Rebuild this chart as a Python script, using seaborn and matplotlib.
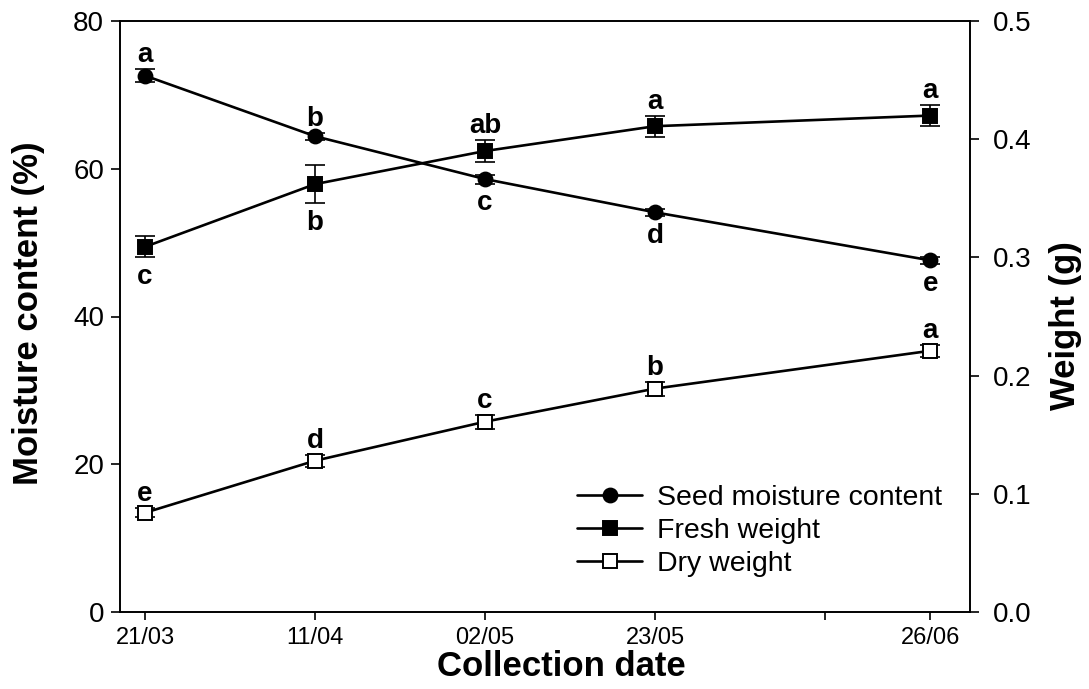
import numpy as np
import pandas as pd
import matplotlib
matplotlib.use("Agg")
import matplotlib.pyplot as plt
from matplotlib.lines import Line2D
import seaborn as sns

# Collection dates (day/month) and measured values
dates = ["21/03", "11/04", "02/05", "23/05", "26/06"]

moisture = [72.6, 64.4, 58.6, 54.1, 47.6]          # seed moisture content (%)
moisture_err = [0.9, 0.5, 0.6, 0.5, 0.5]
moisture_letters = ["a", "b", "c", "d", "e"]

fresh = [0.309, 0.362, 0.390, 0.411, 0.420]        # fresh weight (g)
fresh_err = [0.009, 0.016, 0.009, 0.009, 0.009]
fresh_letters = ["c", "b", "ab", "a", "a"]

dry = [0.084, 0.128, 0.161, 0.189, 0.221]          # dry weight (g)
dry_err = [0.004, 0.005, 0.006, 0.006, 0.005]
dry_letters = ["e", "d", "c", "b", "a"]

# which side of the point each significance letter sits on (+1 above, -1 below)
moisture_side = [1, 1, -1, -1, -1]
fresh_side = [-1, -1, 1, 1, 1]
dry_side = [1, 1, 1, 1, 1]

sns.set_style("ticks")
plt.rcParams["font.family"] = ["Liberation Sans", "DejaVu Sans"]
plt.rcParams.update({"text.color": "black", "axes.labelcolor": "black",
                     "xtick.color": "black", "ytick.color": "black"})

when = pd.to_datetime(dates, format="%d/%m")
days = np.asarray((when - when[0]).days, dtype=float)

fig = plt.figure(figsize=(10.89, 6.89), dpi=100)
ax = fig.add_axes([120 / 1089, 1 - 612 / 689, 850 / 1089, 591 / 689])
ax2 = ax.twinx()

line_kw = dict(color="black", linewidth=1.9, markersize=10,
               markeredgecolor="black", markeredgewidth=1.4)
err_kw = dict(fmt="none", ecolor="black", elinewidth=1.2, capsize=7,
              capthick=1.2, zorder=1.5)

sns.lineplot(x=days, y=moisture, ax=ax, marker="o", **line_kw)
ax.errorbar(days, moisture, yerr=moisture_err, **err_kw)

sns.lineplot(x=days, y=fresh, ax=ax2, marker="s", **line_kw)
ax2.errorbar(days, fresh, yerr=fresh_err, **err_kw)

sns.lineplot(x=days, y=dry, ax=ax2, marker="s", markerfacecolor="white", **line_kw)
ax2.errorbar(days, dry, yerr=dry_err, **err_kw)


def letters(axis, xs, ys, errs, labels, sides):
    for x, y, e, lab, s in zip(xs, ys, errs, labels, sides):
        axis.annotate(lab, (x, y + s * e), xytext=(0, 5 * s),
                      textcoords="offset points", ha="center",
                      va="baseline" if s > 0 else "top",
                      fontsize=20, fontweight="bold", color="black")


letters(ax, days, moisture, moisture_err, moisture_letters, moisture_side)
letters(ax2, days, fresh, fresh_err, fresh_letters, fresh_side)
letters(ax2, days, dry, dry_err, dry_letters, dry_side)

# axes, ticks and labels
ax.set_xlim(-3.1, 101.9)
ax.set_ylim(0, 80)
ax2.set_ylim(0, 0.5)
ax.set_xticks(days, labels=dates)
ax.set_xticks(np.arange(0, days[-1], 21), minor=True)
ax.set_yticks([0, 20, 40, 60, 80])
ax2.set_yticks([0.0, 0.1, 0.2, 0.3, 0.4, 0.5])
ax2.set_yticklabels([f"{v:.1f}" for v in ax2.get_yticks()])

for a in (ax, ax2):
    for sp in a.spines.values():
        sp.set_linewidth(1.2)
        sp.set_color("black")
    a.grid(False)

ax.tick_params(axis="x", which="both", direction="out", length=6, width=1.2,
               labelsize=17, pad=5, colors="black")
ax.tick_params(axis="y", direction="out", length=6.5, width=1.2,
               labelsize=20, pad=5, colors="black")
ax2.tick_params(axis="y", direction="out", length=6.5, width=1.2,
                labelsize=20, pad=10, colors="black")

ax.set_xlabel("Collection date", fontsize=25, fontweight="bold", color="black")
ax.set_ylabel("Moisture content (%)", fontsize=25, fontweight="bold", color="black")
ax2.set_ylabel("Weight (g)", fontsize=25, fontweight="bold", color="black")
ax.xaxis.set_label_coords(0.519, -0.064)
ax.yaxis.set_label_coords(-0.088, 0.505)
ax2.yaxis.set_label_coords(1.093, 0.485)

handles = [
    Line2D([], [], marker="o", **line_kw),
    Line2D([], [], marker="s", **line_kw),
    Line2D([], [], marker="s", markerfacecolor="white", **line_kw),
]
leg = ax2.legend(handles, ["Seed moisture content", "Fresh weight", "Dry weight"],
                 loc="center left", bbox_to_anchor=(577 / 1089, 1 - 531 / 689),
                 bbox_transform=fig.transFigure, frameon=False, fontsize=20.5,
                 handlelength=2.3, handletextpad=0.5, labelspacing=0.26,
                 borderpad=0, borderaxespad=0)
for t in leg.get_texts():
    t.set_color("black")

fig.savefig("out.png", dpi=100, facecolor="white")
